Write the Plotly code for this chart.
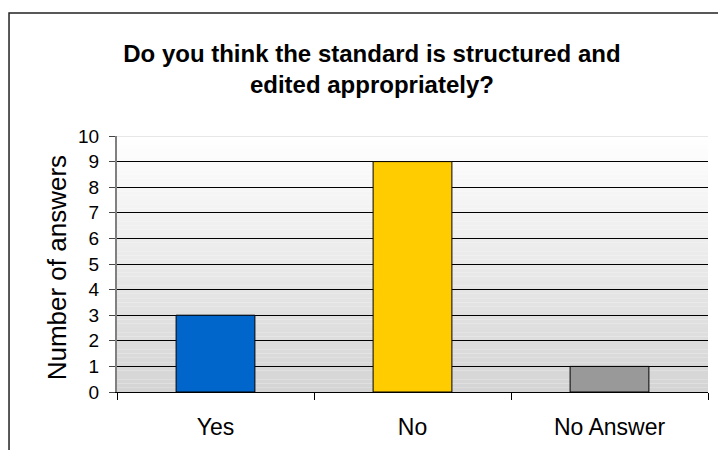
import plotly.graph_objects as go

# Survey answers
categories = ["Yes", "No", "No Answer"]
answers = [3, 9, 1]
bar_colors = ["#0066CC", "#FFCC00", "#999999"]
y_ticks = list(range(0, 11))

title_text = "Do you think the standard is structured and<br>edited appropriately?"
y_title = "Number of answers"

FONT = "Liberation Sans, Arial, sans-serif"

fig = go.Figure()
fig.add_trace(go.Bar(
    x=categories,
    y=answers,
    width=0.4,
    marker=dict(color=bar_colors, line=dict(color="#000000", width=1)),
    hoverinfo="x+y",
))

# Vertical white-to-grey gradient behind the plot area, built from thin bands
shapes = []
n_bands = 60
top_rgb = (255, 255, 255)
bot_rgb = (212, 212, 212)
for i in range(n_bands):
    t = (i + 0.5) / n_bands  # 0 at bottom, 1 at top
    c = tuple(round(b + (tp - b) * t) for b, tp in zip(bot_rgb, top_rgb))
    shapes.append(dict(
        type="rect", xref="paper", yref="paper",
        x0=0, x1=1, y0=i / n_bands, y1=(i + 1) / n_bands,
        fillcolor="rgb(%d,%d,%d)" % c, line=dict(width=0), layer="below",
    ))

# Light top edge of the plot area
shapes.append(dict(
    type="line", xref="paper", yref="y", x0=0, x1=1, y0=10, y1=10,
    line=dict(color="#d0d0d0", width=1), layer="between",
))

# Outer chart frame
shapes.append(dict(
    type="rect", xref="paper", yref="paper",
    x0=-0.1827, x1=1.05, y0=-0.35, y1=1.4806,
    line=dict(color="#222222", width=1.5), fillcolor="rgba(0,0,0,0)", layer="above",
))

fig.update_layout(
    width=718, height=450,
    margin=dict(l=117, r=10, t=136, b=56),
    paper_bgcolor="#ffffff",
    plot_bgcolor="#ffffff",
    showlegend=False,
    font=dict(family=FONT, color="#000000"),
    title=dict(
        text="<b>" + title_text + "</b>",
        font=dict(family=FONT, size=24, color="#000000"),
        x=0.518, xanchor="center", xref="container",
        y=1 - 62 / 450, yanchor="top", yref="container",
    ),
    shapes=shapes,
    annotations=[dict(
        text=y_title, textangle=-90,
        xref="paper", yref="paper",
        x=(57 - 117) / 591, y=0.483, xanchor="center", yanchor="middle",
        showarrow=False, font=dict(family=FONT, size=26, color="#000000"),
    )],
    bargap=0.6,
)

fig.update_xaxes(
    type="category",
    tickson="boundaries",
    ticks="outside", ticklen=7, tickcolor="#000000", tickwidth=1,
    showline=True, linecolor="#000000", linewidth=1,
    showgrid=False,
    tickfont=dict(family=FONT, size=23, color="#000000"),
    ticklabelstandoff=14,
)

fig.update_yaxes(
    range=[0, 10],
    tickvals=y_ticks,
    ticks="outside", ticklen=6, tickcolor="#444444", tickwidth=1,
    showline=True, linecolor="#808080", linewidth=2,
    showgrid=True, gridcolor="#000000", gridwidth=1,
    zeroline=False,
    tickfont=dict(family=FONT, size=19, color="#000000"),
    ticklabelstandoff=6,
)

fig.write_html("out.html")
